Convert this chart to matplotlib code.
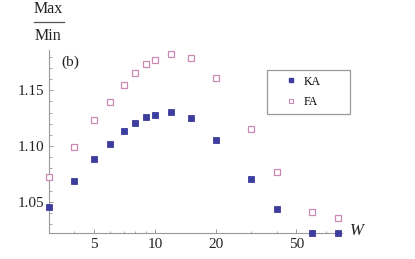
import matplotlib
matplotlib.use("Agg")
import matplotlib.pyplot as plt
from matplotlib.ticker import FixedLocator, NullFormatter, FixedFormatter
from matplotlib.lines import Line2D
from matplotlib.patches import Rectangle

W = [3, 4, 5, 6, 7, 8, 9, 10, 12, 15, 20, 30, 40, 60, 80]
KA = [1.0455, 1.069, 1.0884, 1.1015, 1.1134, 1.1208, 1.126, 1.1277, 1.1306,
      1.1256, 1.1054, 1.0703, 1.044, 1.0225, 1.0225]
FA = [1.0726, 1.0994, 1.1238, 1.1396, 1.1545, 1.1655, 1.1732, 1.1774, 1.1824,
      1.1792, 1.161, 1.1149, 1.0765, 1.0413, 1.036]
xticks = [5, 10, 20, 50]
xticklabels = ["5", "10", "20", "50"]
yticks = [1.05, 1.10, 1.15]
yticklabels = ["1.05", "1.10", "1.15"]

plt.rcParams['font.family'] = ['Liberation Serif', 'DejaVu Serif']
KA_COL = "#3d3d9e"
FA_COL = "#c98ab5"
AX_COL = "#9a9a9a"

fig = plt.figure(figsize=(4.15, 2.59), dpi=100)
ax = fig.add_axes([49/415, 1-233/259, (342-49)/415, (233-50)/259])
ax.set_xscale('log')
ax.set_xlim(3, 84)
ax.set_ylim(1.0223, 1.186)

ax.plot(W, KA, linestyle='none', marker='s', ms=4.4, mfc=KA_COL, mec=KA_COL,
        mew=0.6, label='KA', clip_on=False, zorder=3)
ax.plot(W, FA, linestyle='none', marker='s', ms=4.4, mfc='white', mec=FA_COL,
        mew=0.9, label='FA', clip_on=False, zorder=3)

for s in ['top', 'right']:
    ax.spines[s].set_visible(False)
for s in ['left', 'bottom']:
    ax.spines[s].set_color(AX_COL)
    ax.spines[s].set_linewidth(0.8)

ax.xaxis.set_major_locator(FixedLocator(xticks))
ax.xaxis.set_major_formatter(FixedFormatter(xticklabels))
ax.xaxis.set_minor_locator(FixedLocator([3, 4, 6, 7, 8, 9, 30, 40, 60, 70, 80]))
ax.xaxis.set_minor_formatter(NullFormatter())
ax.yaxis.set_major_locator(FixedLocator(yticks))
ax.yaxis.set_major_formatter(FixedFormatter(yticklabels))
ax.yaxis.set_minor_locator(FixedLocator([1.03, 1.04, 1.06, 1.07, 1.08, 1.09,
                                         1.11, 1.12, 1.13, 1.14, 1.16, 1.17, 1.18]))
ax.tick_params(which='major', direction='in', length=3.2, width=0.7,
               color=AX_COL, labelsize=11, pad=3.5, labelcolor='#222222')
ax.tick_params(which='minor', direction='in', length=1.8, width=0.6, color=AX_COL)

# Axis labels
fig.text(48/415, 1-9/259, "Max", ha='center', va='center', fontsize=11.5, color='#222222')
fig.add_artist(Line2D([34/415, 64/415], [1-22/259, 1-22/259], color='#555555', lw=0.9))
fig.text(48/415, 1-36/259, "Min", ha='center', va='center', fontsize=11.5, color='#222222')
fig.text(357/415, 1-231/259, "W", ha='center', va='center', fontsize=12,
         style='italic', color='#222222')
fig.text(61/415, 1-62/259, "(b)", ha='left', va='center', fontsize=11, color='#222222')

# Legend
fig.add_artist(Rectangle((267/415, 1-114/259), 83/415, 44/259, transform=fig.transFigure,
                         fill=False, edgecolor='#999999', lw=0.9))
handles = [Line2D([], [], linestyle='none', marker='s', ms=3.2, mfc=KA_COL, mec=KA_COL),
           Line2D([], [], linestyle='none', marker='s', ms=3.2, mfc='white', mec=FA_COL, mew=0.8)]
fig.legend(handles, ['KA', 'FA'], loc='center left',
           bbox_to_anchor=(285/415, 1-92/259), frameon=False, fontsize=8.5,
           handlelength=1.0, handletextpad=0.6, labelspacing=0.75, borderpad=0,
           borderaxespad=0)

fig.savefig("out.png", dpi=100)
